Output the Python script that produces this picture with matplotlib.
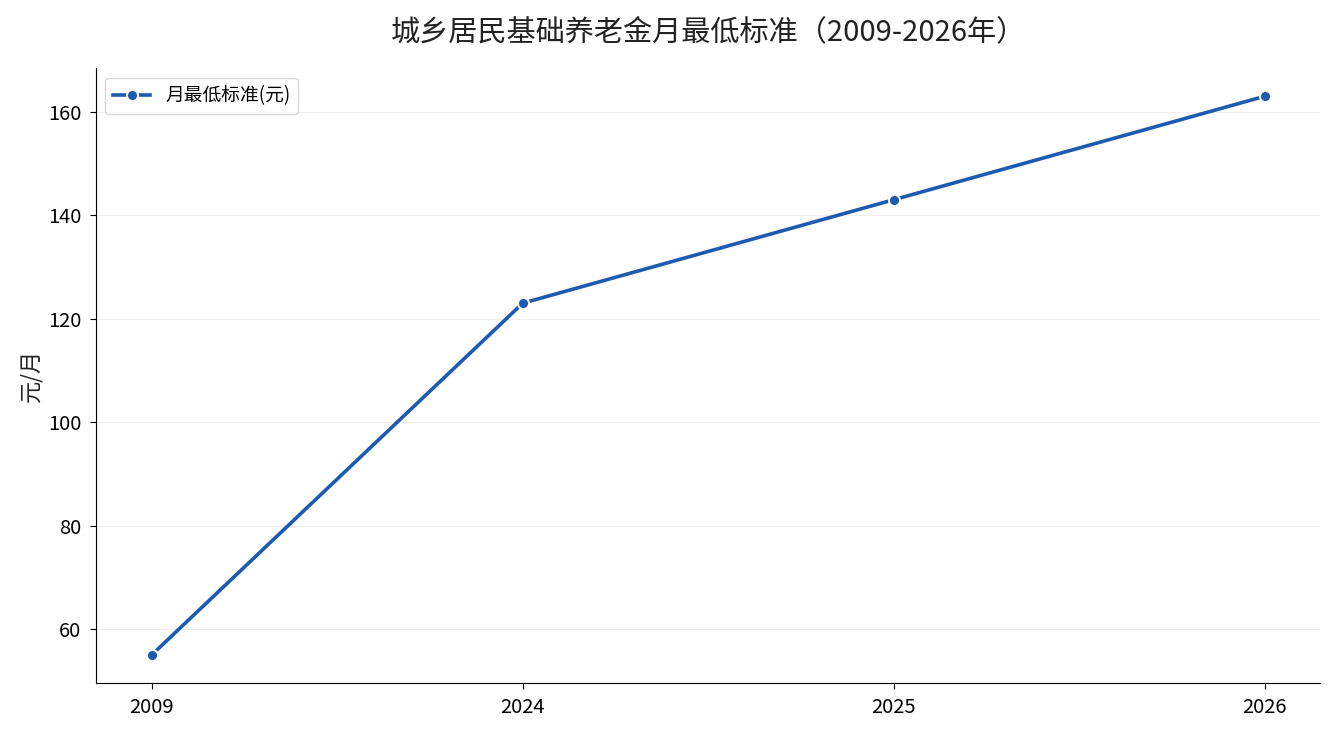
import matplotlib
matplotlib.use('Agg')
import matplotlib.pyplot as plt

plt.rcParams['font.family'] = ['Noto Sans CJK SC', 'DejaVu Sans']

# 数据
years = ['2009', '2024', '2025', '2026']
standard = [55, 123, 143, 163]

fig, ax = plt.subplots(figsize=(13.35, 7.35), dpi=100)
ax.plot(range(len(years)), standard, color='#1c5bb0', linewidth=2.6,
        marker='o', markersize=8, markeredgecolor='white', markeredgewidth=1.4,
        label='月最低标准(元)')
ax.set_xticks(range(len(years)))
ax.set_xticklabels(years)
ax.set_ylabel('元/月', fontsize=16, color='#222222')
ax.set_title('城乡居民基础养老金月最低标准（2009-2026年）', fontsize=21,
             pad=20, color='#222222')
ax.tick_params(labelsize=14.5, length=4.5, pad=6)
ax.yaxis.grid(True, color='#eeeeee', linewidth=0.8)
ax.set_axisbelow(True)
ax.spines['top'].set_visible(False)
ax.spines['right'].set_visible(False)
ax.legend(loc='upper left', fontsize=13.5)

plt.subplots_adjust(left=0.072, right=0.989, top=0.907, bottom=0.071)
plt.savefig('out.png')
